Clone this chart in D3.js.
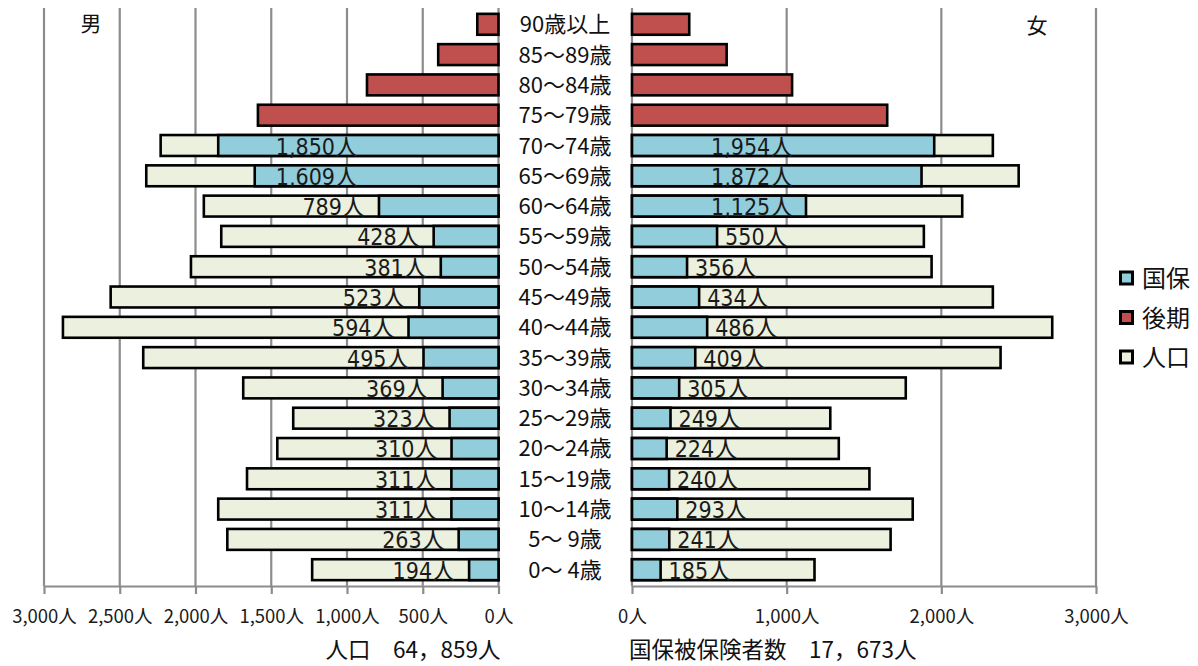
<!DOCTYPE html>
<html>
<head>
<meta charset="utf-8">
<script src="https://cdn.jsdelivr.net/npm/d3@7"></script>
<style>
  html, body { margin: 0; padding: 0; background: #fff; }
  svg { display: block; }
  .jp { font-family: "Noto Sans CJK JP", "Noto Sans", sans-serif; }
  .num { font-family: "Liberation Sans Narrow", "DejaVu Sans Condensed", "Noto Sans CJK JP", sans-serif; }
</style>
</head>
<body>
<svg id="chart" width="1198" height="666"></svg>
<script>
// Age groups, top to bottom
const ages = ["90歳以上", "85～89歳", "80～84歳", "75～79歳", "70～74歳", "65～69歳",
  "60～64歳", "55～59歳", "50～54歳", "45～49歳", "40～44歳", "35～39歳", "30～34歳",
  "25～29歳", "20～24歳", "15～19歳", "10～14歳", "5～ 9歳", "0～ 4歳"];

// 後期 (75歳以上) counts
const koukiAges = ["90歳以上", "85～89歳", "80～84歳", "75～79歳"];
const maleKouki = [140, 398, 868, 1588];
const femaleKouki = [370, 612, 1035, 1650];

// 74歳以下: population and 国保 members
const youngAges = ["70～74歳", "65～69歳", "60～64歳", "55～59歳", "50～54歳", "45～49歳",
  "40～44歳", "35～39歳", "30～34歳", "25～29歳", "20～24歳", "15～19歳", "10～14歳",
  "5～ 9歳", "0～ 4歳"];
const malePop = [2230, 2325, 1945, 1830, 2030, 2560, 2875, 2345, 1685, 1355, 1460, 1660, 1850, 1790, 1230];
const maleKokuho = [1850, 1609, 789, 428, 381, 523, 594, 495, 369, 323, 310, 311, 311, 263, 194];
const femalePop = [2333, 2500, 2135, 1887, 1937, 2333, 2717, 2383, 1770, 1282, 1337, 1535, 1815, 1672, 1180];
const femaleKokuho = [1954, 1872, 1125, 550, 356, 434, 486, 409, 305, 249, 224, 240, 293, 241, 185];

const leftTicks = [0, 500, 1000, 1500, 2000, 2500, 3000];
const rightTicks = [0, 1000, 2000, 3000];
const legendItems = ["国保", "後期", "人口"];
const totalPopText = "人口　64，859人";
const totalKokuhoText = "国保被保険者数　17，673人";

const colors = { "国保": "#92cddc", "後期": "#c0504d", "人口": "#ebf1de" };
const fmt = d => d3.format(",")(d) + "人";

const svg = d3.select("#chart");

const xL = d3.scaleLinear().domain([0, 3000]).range([498.5, 44]);
const xR = d3.scaleLinear().domain([0, 3000]).range([632, 1096]);
const y = d3.scaleBand().domain(ages).range([9, 585]).paddingInner(0.31).paddingOuter(0.16);
const axisY = 586;

// gridlines
const grid = svg.append("g").attr("stroke", "#8c8c8c").attr("stroke-width", 2.2);
grid.selectAll("line.l").data(leftTicks).join("line")
  .attr("x1", d => xL(d)).attr("x2", d => xL(d)).attr("y1", 8).attr("y2", axisY);
grid.selectAll("line.r").data(rightTicks).join("line")
  .attr("x1", d => xR(d)).attr("x2", d => xR(d)).attr("y1", 8).attr("y2", axisY);

// axes
function styleAxis(g) {
  g.select(".domain").attr("stroke", "#8c8c8c").attr("stroke-width", 2.2);
  g.selectAll(".tick line").attr("stroke", "#8c8c8c").attr("stroke-width", 2.2);
  g.selectAll(".tick text").attr("y", 37).attr("dy", 0)
    .attr("fill", "#1a1a1a").attr("class", "jp").style("font-size", "18.5px");
}
svg.append("g").attr("transform", `translate(0,${axisY})`)
  .call(d3.axisBottom(xL).tickValues(leftTicks).tickFormat(fmt).tickSize(8).tickSizeOuter(0))
  .call(styleAxis);
svg.append("g").attr("transform", `translate(0,${axisY})`)
  .call(d3.axisBottom(xR).tickValues(rightTicks).tickFormat(fmt).tickSize(8).tickSizeOuter(0))
  .call(styleAxis);

const bars = svg.append("g").attr("stroke", "#000").attr("stroke-width", 2.6);

// 後期 bars
bars.selectAll("rect.mk").data(koukiAges).join("rect")
  .attr("x", (d, i) => xL(maleKouki[i])).attr("width", (d, i) => xL(0) - xL(maleKouki[i]))
  .attr("y", d => y(d)).attr("height", y.bandwidth()).attr("fill", colors["後期"]);
bars.selectAll("rect.fk").data(koukiAges).join("rect")
  .attr("x", xR(0)).attr("width", (d, i) => xR(femaleKouki[i]) - xR(0))
  .attr("y", d => y(d)).attr("height", y.bandwidth()).attr("fill", colors["後期"]);

// population bars
bars.selectAll("rect.mp").data(youngAges).join("rect")
  .attr("x", (d, i) => xL(malePop[i])).attr("width", (d, i) => xL(0) - xL(malePop[i]))
  .attr("y", d => y(d)).attr("height", y.bandwidth()).attr("fill", colors["人口"]);
bars.selectAll("rect.fp").data(youngAges).join("rect")
  .attr("x", xR(0)).attr("width", (d, i) => xR(femalePop[i]) - xR(0))
  .attr("y", d => y(d)).attr("height", y.bandwidth()).attr("fill", colors["人口"]);

// 国保 bars
bars.selectAll("rect.mh").data(youngAges).join("rect")
  .attr("x", (d, i) => xL(maleKokuho[i])).attr("width", (d, i) => xL(0) - xL(maleKokuho[i]))
  .attr("y", d => y(d)).attr("height", y.bandwidth()).attr("fill", colors["国保"]);
bars.selectAll("rect.fh").data(youngAges).join("rect")
  .attr("x", xR(0)).attr("width", (d, i) => xR(femaleKokuho[i]) - xR(0))
  .attr("y", d => y(d)).attr("height", y.bandwidth()).attr("fill", colors["国保"]);

// 国保 value labels
const labels = svg.append("g").attr("class", "num").attr("fill", "#1a1a1a").style("font-size", "23px");
labels.selectAll("text.ml").data(youngAges).join("text")
  .attr("text-anchor", "end")
  .attr("x", (d, i) => Math.max(xL(maleKokuho[i]) - 14, 358))
  .attr("y", d => y(d) + y.bandwidth() / 2 + 9)
  .text((d, i) => fmt(maleKokuho[i]));
labels.selectAll("text.fl").data(youngAges).join("text")
  .attr("text-anchor", "start")
  .attr("x", (d, i) => femaleKokuho[i] < 600 ? xR(femaleKokuho[i]) + 8 : 711)
  .attr("y", d => y(d) + y.bandwidth() / 2 + 9)
  .text((d, i) => fmt(femaleKokuho[i]));

// age labels
svg.append("g").attr("class", "jp").attr("fill", "#111").style("font-size", "22px")
  .selectAll("text").data(ages).join("text")
  .attr("text-anchor", "middle").attr("x", 565)
  .attr("y", d => y(d) + y.bandwidth() / 2 + 8)
  .attr("xml:space", "preserve")
  .text(d => d);

// side labels
svg.append("text").attr("class", "jp").attr("x", 91).attr("y", 31)
  .attr("text-anchor", "middle").style("font-size", "21px").attr("fill", "#111").text("男");
svg.append("text").attr("class", "jp").attr("x", 1037).attr("y", 33)
  .attr("text-anchor", "middle").style("font-size", "21px").attr("fill", "#111").text("女");

// legend
const legend = svg.append("g");
const lg = legend.selectAll("g").data(legendItems).join("g")
  .attr("transform", (d, i) => `translate(1119,${278 + i * 39.5})`);
lg.append("rect").attr("x", 1.5).attr("y", -6).attr("width", 12).attr("height", 12)
  .attr("fill", d => colors[d]).attr("stroke", "#000").attr("stroke-width", 3);
lg.append("text").attr("class", "jp").attr("x", 23).attr("y", 9)
  .style("font-size", "24px").attr("fill", "#111").text(d => d);

// totals
svg.append("text").attr("class", "jp").attr("x", 413).attr("y", 658)
  .attr("text-anchor", "middle").style("font-size", "22.5px").attr("fill", "#111").text(totalPopText);
svg.append("text").attr("class", "jp").attr("x", 629).attr("y", 658)
  .attr("text-anchor", "start").style("font-size", "22.5px").attr("fill", "#111").text(totalKokuhoText);
</script>
</body>
</html>
